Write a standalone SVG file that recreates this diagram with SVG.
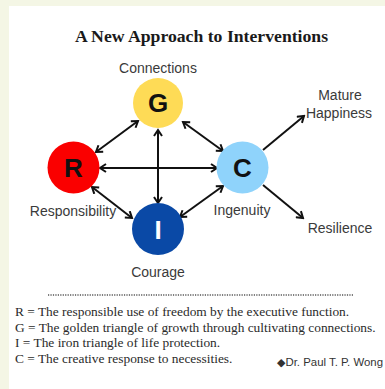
<svg xmlns="http://www.w3.org/2000/svg" width="385" height="389" viewBox="0 0 385 389">
  <defs>
    <style>
      .title { font-family: "Liberation Serif", "Times New Roman", serif; font-weight: bold; font-size: 17.7px; fill: #1a1a1a; }
      .label { font-family: "Liberation Sans", Arial, sans-serif; font-size: 14px; fill: #3a3a3a; }
      .letter { font-family: "Liberation Sans", Arial, sans-serif; font-weight: bold; font-size: 26px; }
      .legend { font-family: "Liberation Serif", "Times New Roman", serif; font-size: 13.4px; fill: #2a2a2a; }
      .sign { font-family: "Liberation Sans", Arial, sans-serif; font-size: 11.4px; fill: #333; }
      .edge { stroke: #111; stroke-width: 2; fill: none; }
    </style>
    <marker id="head" viewBox="-8 -5 10 10" refX="0" refY="0" markerWidth="10" markerHeight="10" markerUnits="userSpaceOnUse" orient="auto-start-reverse">
      <path d="M-6,-4 L0,0 L-6,4" fill="none" stroke="#111" stroke-width="2"/>
    </marker>
  </defs>

  <!-- page background and white panel -->
  <rect x="0" y="0" width="385" height="389" fill="#f4f6e5"/>
  <rect x="9" y="6" width="376" height="383" fill="#ffffff"/>

  <text class="title" x="201.5" y="42" text-anchor="middle">A New Approach to Interventions</text>

  <!-- connectors -->
  <g id="connectors">
    <line class="edge" x1="138" y1="121" x2="96" y2="152" marker-start="url(#head)" marker-end="url(#head)"/>
    <line class="edge" x1="183" y1="122" x2="223" y2="151" marker-start="url(#head)" marker-end="url(#head)"/>
    <line class="edge" x1="158" y1="130" x2="158" y2="203" marker-start="url(#head)" marker-end="url(#head)"/>
    <line class="edge" x1="100" y1="168" x2="217" y2="168" marker-start="url(#head)" marker-end="url(#head)"/>
    <line class="edge" x1="92" y1="187" x2="132" y2="218" marker-start="url(#head)" marker-end="url(#head)"/>
    <line class="edge" x1="223" y1="186" x2="180" y2="217" marker-start="url(#head)" marker-end="url(#head)"/>
    <line class="edge" x1="263" y1="150" x2="304" y2="116" marker-end="url(#head)"/>
    <line class="edge" x1="263" y1="185" x2="303" y2="218" marker-end="url(#head)"/>
  </g>

  <!-- nodes -->
  <g id="node-G">
    <circle cx="158" cy="103" r="25" fill="#fedb56"/>
    <text class="letter" x="158" y="112" text-anchor="middle" fill="#111">G</text>
    <text class="label" x="158" y="73" text-anchor="middle">Connections</text>
  </g>
  <g id="node-R">
    <circle cx="73.5" cy="167.5" r="26" fill="#fa0000"/>
    <text class="letter" x="73.5" y="177" text-anchor="middle" fill="#111">R</text>
    <text class="label" x="73" y="216" text-anchor="middle">Responsibility</text>
  </g>
  <g id="node-C">
    <circle cx="242.5" cy="167.5" r="26" fill="#8fd3fb"/>
    <text class="letter" x="242.5" y="177" text-anchor="middle" fill="#111">C</text>
    <text class="label" x="242" y="215" text-anchor="middle">Ingenuity</text>
  </g>
  <g id="node-I">
    <circle cx="158" cy="229" r="26" fill="#0a49a6"/>
    <text class="letter" x="158" y="238.5" text-anchor="middle" fill="#ffffff">I</text>
    <text class="label" x="158" y="277" text-anchor="middle">Courage</text>
  </g>
  <g id="node-mature">
    <text class="label" x="340" y="100" text-anchor="middle">Mature</text>
    <text class="label" x="339" y="118" text-anchor="middle">Happiness</text>
  </g>
  <g id="node-resilience">
    <text class="label" x="340" y="233" text-anchor="middle">Resilience</text>
  </g>

  <!-- legend -->
  <line x1="48" y1="295" x2="354" y2="295" stroke="#555" stroke-width="1.3" stroke-dasharray="1.2 1.25"/>
  <text class="legend" x="15" y="316">R = The responsible use of freedom by the executive function.</text>
  <text class="legend" x="15" y="332">G = The golden triangle of growth through cultivating connections.</text>
  <text class="legend" x="15" y="347">I = The iron triangle of life protection.</text>
  <text class="legend" x="15" y="363">C = The creative response to necessities.</text>
  <text class="sign" x="383" y="366" text-anchor="end">◆Dr. Paul T. P. Wong</text>
</svg>
